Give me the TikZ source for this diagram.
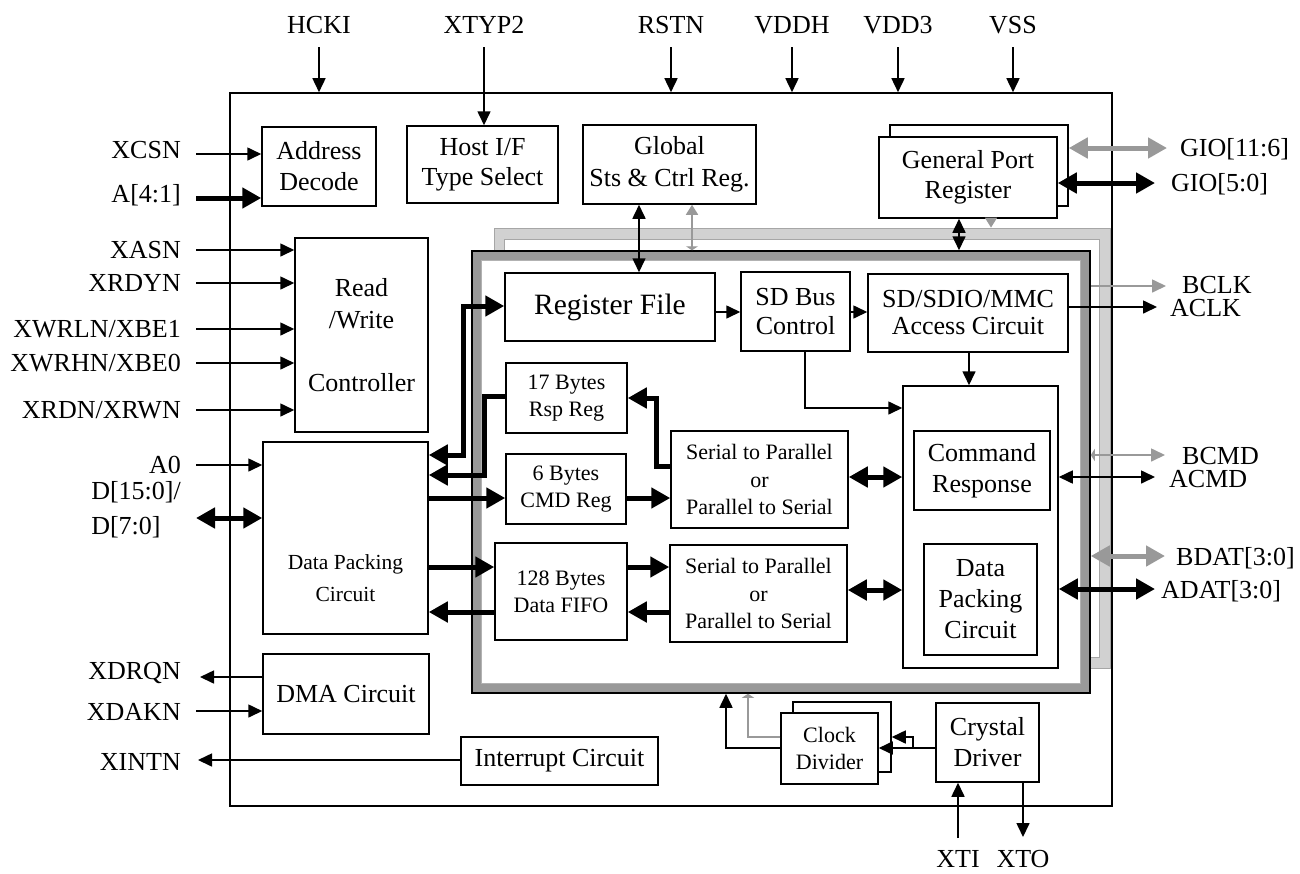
\documentclass[tikz,border=0pt]{standalone}
\usepackage{fontspec}
\setmainfont{Liberation Serif}
\usetikzlibrary{arrows.meta,calc}
\definecolor{garr}{gray}{0.6}
\definecolor{lband}{gray}{0.82}
\definecolor{dband}{gray}{0.6}
\newcommand{\fM}{\fontsize{26}{30}\selectfont}
\newcommand{\fS}{\fontsize{22}{27}\selectfont}
\newcommand{\fL}{\fontsize{29.5}{34}\selectfont}
\tikzset{
  ArS/.tip={Triangle[length=14pt,width=13pt]},
  ArB/.tip={Triangle[length=19pt,width=20pt]},
  ArG/.tip={Triangle[length=10pt,width=12pt]},
  ArT/.tip={Triangle[length=4pt,width=12pt]},
  bx/.style={draw, line width=1.5pt, fill=white, inner sep=0pt, align=center, font=\fM},
  lbl/.style={inner sep=0pt, font=\fM},
  wthin/.style={line width=1.6pt},
  wthick/.style={line width=5pt},
  arS/.style={wthin, -ArS},
  arB/.style={wthick, -ArB},
  darS/.style={wthin, ArS-ArS},
  darB/.style={wthick, ArB-ArB},
}
\begin{document}
\begin{tikzpicture}[x=1pt,y=-1pt]
\useasboundingbox (0,0) rectangle (1300,873);

% chip outline
\node[draw, line width=1.6pt, minimum width=882pt, minimum height=713pt, inner sep=0pt] (chip) at (671,449.5) {};

% light frame
\node[draw=gray!70, line width=0.8pt, fill=lband, minimum width=616pt, minimum height=440pt, inner sep=0pt] (lframe) at (802,448) {};
\filldraw[draw=gray!70, line width=0.8pt, fill=white] ([shift={(11,12)}]lframe.north west) rectangle ([shift={(-11,-11)}]lframe.south east);

% dark frame (core)
\node[draw, line width=1.5pt, fill=dband, minimum width=618pt, minimum height=442pt, inner sep=0pt] (core) at (781,472) {};
\filldraw[draw=gray!60, line width=0.6pt, fill=white] ([shift={(10,10)}]core.north west) rectangle ([shift={(-10,-10)}]core.south east);

% blocks outside core
\node[bx, minimum width=114pt, minimum height=79pt, font=\fontsize{26}{31}\selectfont] (addr) at (319,166.5) {Address\\Decode};
\node[bx, minimum width=151pt, minimum height=77pt] (host) at (482.5,164.5) {Host I/F\\Type Select};
\node[bx, minimum width=173pt, minimum height=79pt, font=\fontsize{26}{32}\selectfont] (glob) at (669.5,164.5) {Global\\Sts \& Ctrl Reg.};
\node[bx, minimum width=178pt, minimum height=81pt] (gprb) at (979,165.5) {};
\node[bx, minimum width=178pt, minimum height=81pt] (gpr) at (968,177.5) {General Port\\Register};
\node[bx, minimum width=133pt, minimum height=194pt, font=\fontsize{26}{31.5}\selectfont] (rw) at (361.5,335) {Read\\/Write\\[31.5pt]Controller};
\node[bx, minimum width=165pt, minimum height=192pt,
      label={[font=\fontsize{21.5}{32}\selectfont, align=center, yshift=-40pt]center:Data Packing\\Circuit}] (dpl) at (345.5,538) {};
\node[bx, minimum width=166pt, minimum height=80pt] (dma) at (346,694) {DMA Circuit};
\node[bx, minimum width=197pt, minimum height=48pt] (intr) at (559.5,761) {Interrupt Circuit};

% blocks inside core
\node[bx, minimum width=210pt, minimum height=68pt, font=\fL] (regf) at (610,307) {Register File};
\node[bx, minimum width=109pt, minimum height=79pt, font=\fontsize{26}{29}\selectfont] (sdbus) at (795.5,311.5) {SD Bus\\Control};
\node[bx, minimum width=200pt, minimum height=78pt, font=\fontsize{26}{27}\selectfont] (sdio) at (968,313) {SD/SDIO/MMC\\Access Circuit};
\node[bx, minimum width=121pt, minimum height=70pt, font=\fS] (rsp) at (566.5,398) {17 Bytes\\Rsp Reg};
\node[bx, minimum width=120pt, minimum height=70pt, font=\fS] (cmd) at (566,489) {6 Bytes\\CMD Reg};
\node[bx, minimum width=132pt, minimum height=97pt, font=\fS] (fifo) at (561,591.5) {128 Bytes\\Data FIFO};
\node[bx, minimum width=177pt, minimum height=97pt, font=\fontsize{22}{27.5}\selectfont] (spa) at (759.5,479.5) {Serial to Parallel\\or\\Parallel to Serial};
\node[bx, minimum width=177pt, minimum height=97pt, font=\fontsize{22}{27.5}\selectfont] (spb) at (758.5,593.5) {Serial to Parallel\\or\\Parallel to Serial};
\node[bx, minimum width=155pt, minimum height=282pt] (big) at (980.5,527) {};
\node[bx, minimum width=136pt, minimum height=79pt, font=\fontsize{26}{31}\selectfont] (cresp) at (982,470.5) {Command\\Response};
\node[bx, minimum width=113pt, minimum height=111pt, font=\fontsize{26}{31}\selectfont] (dpr) at (980.5,599.5) {Data\\Packing\\Circuit};

% clock blocks
\node[bx, minimum width=98pt, minimum height=70pt] (clkb) at (842,737) {};
\node[bx, minimum width=97pt, minimum height=71pt, font=\fontsize{22}{27}\selectfont] (clk) at (829.5,748.5) {Clock\\Divider};
\node[bx, minimum width=103pt, minimum height=79pt, font=\fontsize{26}{31}\selectfont] (xtal) at (987.5,742.5) {Crystal\\Driver};

% top labels and arrows
\node[lbl, anchor=base] (lhcki) at (319,33) {HCKI};
\node[lbl, anchor=base] (lxtyp) at (484,33) {XTYP2};
\node[lbl, anchor=base] (lrstn) at (671,33) {RSTN};
\node[lbl, anchor=base] (lvddh) at (792,33) {VDDH};
\node[lbl, anchor=base] (lvdd3) at (898,33) {VDD3};
\node[lbl, anchor=base] (lvss) at (1013,33) {VSS};
\draw[arS] (lhcki |- 0,47) -- (lhcki |- chip.north);
\draw[arS] (lxtyp |- 0,47) -- (lxtyp |- host.north);
\draw[arS] (lrstn |- 0,47) -- (lrstn |- chip.north);
\draw[arS] (lvddh |- 0,47) -- (lvddh |- chip.north);
\draw[arS] (lvdd3 |- 0,47) -- (lvdd3 |- chip.north);
\draw[arS] (lvss |- 0,47) -- (lvss |- chip.north);

% left labels and arrows
\node[lbl, anchor=base east] (lxcsn) at (181,158) {XCSN};
\node[lbl, anchor=base east] (la41) at (181,202) {A[4:1]};
\node[lbl, anchor=base east] (lxasn) at (181,258) {XASN};
\node[lbl, anchor=base east] (lxrdyn) at (181,291) {XRDYN};
\node[lbl, anchor=base east] (lxwrl) at (181,337) {XWRLN/XBE1};
\node[lbl, anchor=base east] (lxwrh) at (181,371) {XWRHN/XBE0};
\node[lbl, anchor=base east] (lxrdn) at (181,418) {XRDN/XRWN};
\node[lbl, anchor=base east] (la0) at (181,473) {A0};
\node[lbl, anchor=base east] (ld1) at (181,499) {D[15:0]/};
\node[lbl, anchor=base west] (ld2) at (ld1.base west |- 0,534) {D[7:0]};
\node[lbl, anchor=base east] (lxdrq) at (181,679) {XDRQN};
\node[lbl, anchor=base east] (lxdak) at (181,720) {XDAKN};
\node[lbl, anchor=base east] (lxint) at (181,770) {XINTN};

\draw[arS] (lxcsn.east |- 0,154) ++(15,0) -- (addr.west |- 0,154);
\draw[arB] (la41.east |- 0,198) ++(15,0) -- (addr.west |- 0,198);
\draw[arS] (lxasn.east |- 0,250) ++(15,0) -- (rw.west |- 0,250);
\draw[arS] (lxrdyn.east |- 0,283) ++(15,0) -- (rw.west |- 0,283);
\draw[arS] (lxwrl.east |- 0,329) ++(15,0) -- (rw.west |- 0,329);
\draw[arS] (lxwrh.east |- 0,363) ++(15,0) -- (rw.west |- 0,363);
\draw[arS] (lxrdn.east |- 0,410) ++(15,0) -- (rw.west |- 0,410);
\draw[arS] (la0.east |- 0,465) ++(15,0) -- (dpl.west |- 0,465);
\draw[darB] (ld1.east |- 0,518) ++(15,0) -- (dpl.west |- 0,518);
\draw[arS] (dma.west |- 0,677) -- ($(lxdrq.east |- 0,677)+(19,0)$);
\draw[arS] (lxdak.east |- 0,711) ++(15,0) -- (dma.west |- 0,711);
\draw[arS] (intr.west |- 0,760) -- ($(lxint.east |- 0,760)+(17,0)$);

% right labels and arrows
\node[lbl, anchor=base west] (lgioa) at (1180,156) {GIO[11:6]};
\node[lbl, anchor=base west] (lgiob) at (1171,191) {GIO[5:0]};
\node[lbl, anchor=base west] (lbclk) at (1182,293) {BCLK};
\node[lbl, anchor=base west] (laclk) at (1170,316) {ACLK};
\node[lbl, anchor=base west] (lbcmd) at (1182,464) {BCMD};
\node[lbl, anchor=base west] (lacmd) at (1169,487) {ACMD};
\node[lbl, anchor=base west] (lbdat) at (1176,565) {BDAT[3:0]};
\node[lbl, anchor=base west] (ladat) at (1161,598) {ADAT[3:0]};

\draw[darB, garr] (gprb.east |- 0,148) -- ($(lgioa.west |- 0,148)+(-13,0)$);
\draw[darB] (gpr.east |- 0,183) -- ($(lgiob.west |- 0,183)+(-16,0)$);
\draw[arS, garr] (core.east |- 0,286) -- ($(lbclk.west |- 0,286)+(-16,0)$);
\draw[arS] (sdio.east |- 0,307) -- ($(laclk.west |- 0,307)+(-13,0)$);
\draw[wthin, garr, ArT-ArS] (core.east |- 0,455) -- ($(lbcmd.west |- 0,455)+(-17,0)$);
\draw[darS] (big.east |- 0,477) -- ($(lacmd.west |- 0,477)+(-14,0)$);
\draw[darB, garr] (core.east |- 0,556) -- ($(lbdat.west |- 0,556)+(-11,0)$);
\draw[darB] (big.east |- 0,589) -- ($(ladat.west |- 0,589)+(-6,0)$);

% bottom labels and arrows
\node[lbl, anchor=base] (lxti) at (958,867) {XTI};
\node[lbl, anchor=base] (lxto) at (1023,867) {XTO};
\draw[arS] (lxti |- 0,838) -- (lxti |- xtal.south);
\draw[arS] (lxto |- xtal.south) -- (lxto |- 0,837);

% internal connectors
\draw[darS] (glob.south -| 639,0) -- (regf.north -| 639,0);
\draw[wthin, garr, ArG-ArT] (glob.south -| 692,0) -- (core.north -| 692,0);
\draw[darS] (gpr.south -| 959,0) -- (core.north -| 959,0);
\draw[wthin, garr, -ArG] (gpr.south -| 991,0) -- (lframe.north -| 991,0);
\draw[arS] (regf.east |- 0,312) -- (sdbus.west |- 0,312);
\draw[arS] (sdbus.east |- 0,312) -- (sdio.west |- 0,312);
\draw[arS] (sdbus.south -| 805,0) |- (big.west |- 0,408);
\draw[arS] (sdio.south -| 969,0) -- (big.north -| 969,0);
\draw[darB] (spa.east |- 0,477) -- (big.west |- 0,477);
\draw[darB] (spb.east |- 0,590) -- (big.west |- 0,590);
\draw[arB] (spa.west |- 0,466) -- ++(-14,0) |- (rsp.east |- 0,398);
\draw[arB] (cmd.east |- 0,498) -- (spa.west |- 0,498);
\draw[arB] (dpl.east |- 0,498) -- (cmd.west |- 0,498);
\draw[arB] (dpl.east |- 0,567) -- (fifo.west |- 0,567);
\draw[arB] (fifo.east |- 0,567) -- (spb.west |- 0,567);
\draw[arB] (spb.west |- 0,612) -- (fifo.east |- 0,612);
\draw[arB] (fifo.west |- 0,612) -- (dpl.east |- 0,612);
\draw[darB] (dpl.east |- 0,455) -- ++(35,0) |- (regf.west |- 0,306);
\draw[arB] (rsp.west |- 0,396) -- ++(-21,0) |- (dpl.east |- 0,475);

% clock connectors
\draw[arS] (xtal.west |- 0,748) -- (clk.east |- 0,748);
\draw[arS] (xtal.west |- 0,748) ++(-22,0) |- (clkb.east |- 0,737);
\draw[arS] (clk.west |- 0,748) -| (core.south -| 726,0);
\draw[wthin, garr, -ArT] (clk.west |- 0,737) -| (core.south -| 748,0);
\end{tikzpicture}
\end{document}
